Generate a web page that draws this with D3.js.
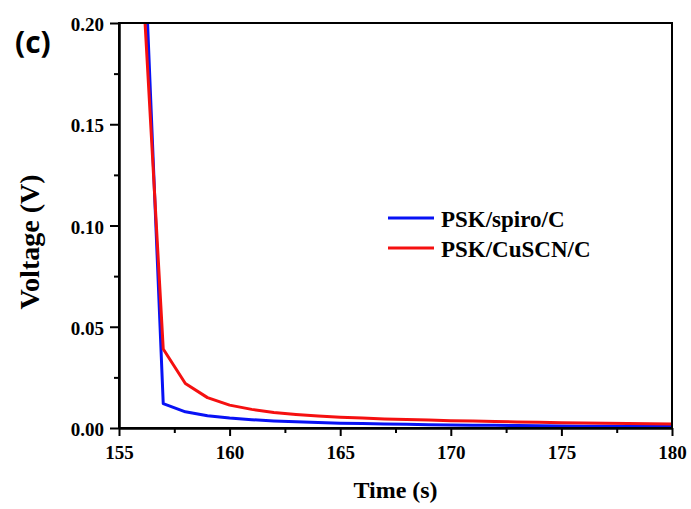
<!DOCTYPE html>
<html>
<head>
<meta charset="utf-8">
<script src="https://cdn.jsdelivr.net/npm/d3@7"></script>
<style>
  html, body { margin: 0; padding: 0; background: #fff; }
  svg { display: block; }
  .tick text { font-family: "Liberation Serif", "Times New Roman", serif; font-weight: bold; font-size: 19px; fill: #000; }
</style>
</head>
<body>
<svg id="chart" width="691" height="509"></svg>
<script>
// Open-circuit voltage decay after switching off the light
const time = [156, 157, 158, 159, 160, 161, 162, 163, 164, 165, 166, 167, 168,
              169, 170, 171, 172, 173, 174, 175, 176, 177, 178, 179, 180];
const spiroVoltage = [0.277, 0.012, 0.008, 0.0061, 0.0049, 0.0041, 0.0035, 0.0031, 0.0027,
                      0.0024, 0.0022, 0.0020, 0.0018, 0.0016, 0.0015, 0.0014, 0.0013, 0.0012,
                      0.0011, 0.0010, 0.0009, 0.0009, 0.0008, 0.0008, 0.0007];
const cuscnVoltage = [0.235, 0.039, 0.022, 0.015, 0.0113, 0.0092, 0.0077, 0.0067, 0.0059,
                      0.0053, 0.0049, 0.0045, 0.0042, 0.0039, 0.0036, 0.0034, 0.0032, 0.0030,
                      0.0028, 0.0026, 0.0025, 0.0023, 0.0022, 0.0021, 0.0020];
const seriesNames = ["PSK/spiro/C", "PSK/CuSCN/C"];
const seriesColors = ["#0812f5", "#f51010"];
const xTicks = [155, 160, 165, 170, 175, 180];
const xMinorTicks = [157.5, 162.5, 167.5, 172.5, 177.5];
const yTicks = [0.00, 0.05, 0.10, 0.15, 0.20];
const yMinorTicks = [0.025, 0.075, 0.125, 0.175];

const svg = d3.select("#chart");
const plot = { left: 119, right: 672, top: 23, bottom: 428 };

const x = d3.scaleLinear().domain([155, 180]).range([plot.left, plot.right]);
const y = d3.scaleLinear().domain([0, 0.2]).range([plot.bottom, plot.top]);

// clip lines to the frame
svg.append("defs").append("clipPath").attr("id", "plotClip")
  .append("rect")
  .attr("x", plot.left).attr("y", plot.top)
  .attr("width", plot.right - plot.left).attr("height", plot.bottom - plot.top);

const line = d3.line().x(d => x(d[0])).y(d => y(d[1]));
const series = [spiroVoltage, cuscnVoltage];

const lines = svg.append("g").attr("clip-path", "url(#plotClip)");
series.forEach((vals, i) => {
  lines.append("path")
    .datum(time.map((t, k) => [t, vals[k]]))
    .attr("d", line)
    .attr("fill", "none")
    .attr("stroke", seriesColors[i])
    .attr("stroke-width", 3)
    .attr("stroke-linejoin", "round");
});

// axes
const xAxis = svg.append("g")
  .attr("transform", `translate(0,${plot.bottom})`)
  .call(d3.axisBottom(x).tickValues(xTicks).tickFormat(d3.format("d")).tickSize(8).tickSizeOuter(0));
xAxis.selectAll("text").attr("dy", 0).attr("y", 31);

svg.append("g")
  .attr("transform", `translate(0,${plot.bottom})`)
  .call(d3.axisBottom(x).tickValues(xMinorTicks).tickFormat("").tickSize(5).tickSizeOuter(0));

const yAxis = svg.append("g")
  .attr("transform", `translate(${plot.left},0)`)
  .call(d3.axisLeft(y).tickValues(yTicks).tickFormat(d3.format(".2f")).tickSize(9).tickSizeOuter(0));
yAxis.selectAll("text").attr("dy", "0.4em").attr("x", -15);

svg.append("g")
  .attr("transform", `translate(${plot.left},0)`)
  .call(d3.axisLeft(y).tickValues(yMinorTicks).tickFormat("").tickSize(5).tickSizeOuter(0));

svg.selectAll(".domain").attr("stroke", "#000").attr("stroke-width", 2);
svg.selectAll(".tick line").attr("stroke", "#000").attr("stroke-width", 2);

// frame
svg.append("rect")
  .attr("x", plot.left).attr("y", plot.top)
  .attr("width", plot.right - plot.left).attr("height", plot.bottom - plot.top)
  .attr("fill", "none").attr("stroke", "#000").attr("stroke-width", 2);

// axis titles
svg.append("text")
  .attr("x", (plot.left + plot.right) / 2).attr("y", 498)
  .attr("text-anchor", "middle")
  .style("font-family", '"Liberation Serif", "Times New Roman", serif')
  .style("font-weight", "bold").style("font-size", "24px")
  .text("Time (s)");

svg.append("text")
  .attr("transform", "translate(39,242) rotate(-90)")
  .attr("text-anchor", "middle")
  .style("font-family", '"Liberation Serif", "Times New Roman", serif')
  .style("font-weight", "bold").style("font-size", "28px")
  .text("Voltage (V)");

// panel label
svg.append("text")
  .attr("x", 15).attr("y", 53)
  .style("font-family", '"Open Sans", "Liberation Sans", sans-serif')
  .style("font-weight", "bold").style("font-size", "30px")
  .text("(c)");

// legend
const legend = svg.append("g").attr("transform", "translate(388,218)");
seriesNames.forEach((name, i) => {
  const g = legend.append("g").attr("transform", `translate(0,${i * 30})`);
  g.append("line").attr("x1", 0).attr("x2", 46).attr("y1", 0).attr("y2", 0)
    .attr("stroke", seriesColors[i]).attr("stroke-width", 3);
  g.append("text").attr("x", 53).attr("y", 8.5)
    .style("font-family", '"Liberation Serif", "Times New Roman", serif')
    .style("font-weight", "bold").style("font-size", "23px")
    .text(name);
});
</script>
</body>
</html>
